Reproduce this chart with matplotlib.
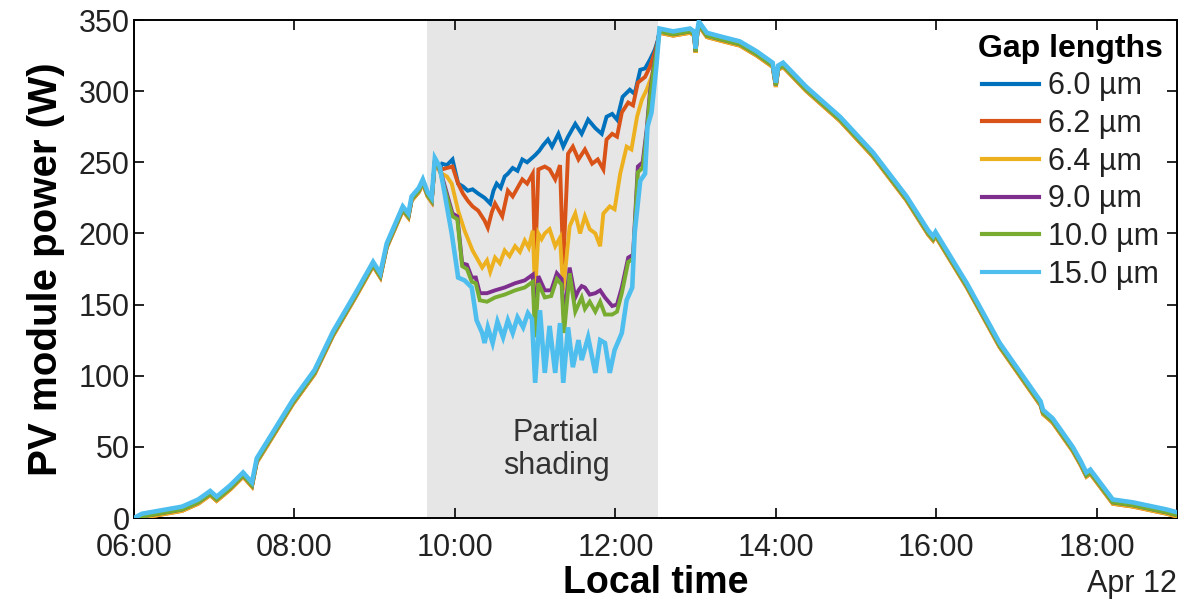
import matplotlib
matplotlib.use("Agg")
import matplotlib.pyplot as plt
import numpy as np

plt.rcParams['font.family'] = ['Liberation Sans', 'DejaVu Sans']

# ---------------- data (hours of day, W) ----------------
labels = ["6.0 µm", "6.2 µm", "6.4 µm", "9.0 µm", "10.0 µm", "15.0 µm"]
colors = ["#0072BD", "#D95319", "#EDB120", "#7E2F8E", "#77AC30", "#4DBEEE"]

# common curve before the shading (all gap lengths nearly identical)
morning_t = [6.00, 6.10, 6.30, 6.60, 6.80, 6.95, 7.03, 7.20, 7.36, 7.47, 7.53, 7.75,
             7.98, 8.25, 8.48, 8.75, 8.98, 9.07, 9.15, 9.35, 9.42, 9.46, 9.55, 9.60,
             9.66, 9.71, 9.75, 9.81]
morning_w = [0, 3, 5, 8, 13, 19, 15, 23, 32, 25, 42, 62,
             83, 104, 131, 157, 180, 172, 193, 219, 214, 226, 232, 238,
             229, 225, 253, 247]

# common curve after the shading
afternoon_t = [12.55, 12.72, 12.93, 12.98, 13.00, 13.02, 13.04, 13.14, 13.34, 13.55,
               13.76, 13.96, 14.00, 14.03, 14.09, 14.38, 14.80, 15.21, 15.63, 15.90,
               15.96, 15.99, 16.38, 16.79, 17.20, 17.30, 17.33, 17.45, 17.70, 17.80,
               17.87, 17.92, 18.04, 18.20, 18.45, 18.87, 19.00]
afternoon_w = [344, 342, 344, 342, 330, 342, 349, 341, 338, 335,
               328, 320, 306, 318, 320, 303, 282, 257, 226, 202,
               198, 201, 165, 123, 90, 82, 76, 70, 50, 40,
               32, 34, 25, 13, 11, 6, 4]

# small downward offset of each series outside the shading
outside_offset = [2, 3, 3, 2, 2, 0]

# values during partial shading, per gap length
shade_t_60 = [9.84, 9.90, 9.97, 10.04, 10.10, 10.16, 10.22, 10.29, 10.37, 10.44, 10.48,
              10.52, 10.57, 10.62, 10.66, 10.72, 10.78, 10.84, 10.90, 11.00, 11.05,
              11.10, 11.16, 11.21, 11.29, 11.35, 11.41, 11.50, 11.58, 11.66, 11.75,
              11.83, 11.89, 11.96, 12.02, 12.09, 12.18, 12.24, 12.31, 12.37, 12.43,
              12.49, 12.53]
shade_w_60 = [249, 248, 252, 235, 233, 230, 231, 228, 225, 221, 230,
              235, 232, 240, 242, 246, 244, 252, 250, 255, 258,
              262, 266, 261, 270, 261, 268, 277, 270, 280, 274,
              270, 282, 284, 280, 296, 301, 298, 315, 316, 322,
              329, 336]

shade_t_62 = [9.84, 9.90, 9.97, 10.04, 10.10, 10.16, 10.22, 10.29, 10.37, 10.41, 10.46,
              10.50, 10.55, 10.59, 10.66, 10.72, 10.78, 10.84, 10.90, 10.97, 11.00,
              11.04, 11.12, 11.18, 11.25, 11.31, 11.35, 11.41, 11.47, 11.54, 11.62,
              11.71, 11.78, 11.85, 11.89, 11.96, 12.02, 12.08, 12.16, 12.22, 12.28,
              12.37, 12.43, 12.49, 12.53]
shade_w_62 = [245, 246, 247, 235, 228, 223, 219, 216, 209, 204, 215,
              221, 216, 212, 230, 226, 232, 238, 235, 242, 178,
              245, 247, 245, 238, 248, 178, 256, 261, 252, 259,
              249, 252, 245, 266, 270, 268, 285, 292, 290, 306,
              310, 317, 327, 335]

shade_t_64 = [9.84, 9.90, 9.96, 10.04, 10.12, 10.22, 10.29, 10.34, 10.40, 10.44, 10.50,
              10.56, 10.62, 10.68, 10.75, 10.81, 10.87, 10.92, 10.97, 11.00, 11.04,
              11.08, 11.12, 11.18, 11.25, 11.31, 11.35, 11.43, 11.50, 11.56, 11.62,
              11.68, 11.75, 11.81, 11.85, 11.93, 11.99, 12.06, 12.14, 12.20, 12.27,
              12.33, 12.39, 12.45, 12.52]
shade_w_64 = [242, 240, 235, 216, 202, 188, 181, 176, 181, 173, 183,
              179, 188, 184, 191, 187, 195, 190, 202, 158, 200,
              196, 200, 203, 191, 197, 160, 205, 214, 200, 212,
              203, 200, 191, 214, 219, 217, 242, 261, 259, 282,
              294, 301, 310, 327]

shade_t_90 = [9.84, 9.90, 9.97, 10.03, 10.09, 10.15, 10.21, 10.26, 10.31, 10.40, 10.50,
              10.62, 10.75, 10.87, 10.97, 11.00, 11.04, 11.12, 11.20, 11.27, 11.33,
              11.36, 11.43, 11.50, 11.54, 11.58, 11.62, 11.68, 11.75, 11.81, 11.87,
              11.96, 12.02, 12.08, 12.16, 12.22, 12.28, 12.34, 12.39, 12.43, 12.49]
shade_w_90 = [240, 228, 214, 212, 179, 178, 169, 169, 158, 158, 160,
              162, 165, 167, 171, 140, 170, 160, 160, 172, 168,
              140, 176, 155, 160, 163, 162, 157, 158, 160, 155,
              149, 150, 162, 183, 185, 247, 250, 273, 299, 322]

shade_t_100 = shade_t_90
shade_w_100 = [238, 226, 212, 210, 177, 175, 166, 165, 153, 152, 155,
               157, 160, 162, 166, 127, 165, 155, 156, 168, 164,
               130, 172, 145, 150, 155, 147, 152, 145, 152, 143,
               143, 145, 158, 180, 182, 243, 246, 270, 296, 320]

shade_t_150 = [9.85, 9.90, 9.96, 10.02, 10.04, 10.12, 10.21, 10.27, 10.34, 10.37, 10.41,
               10.47, 10.53, 10.60, 10.66, 10.72, 10.78, 10.85, 10.91, 10.96, 11.00,
               11.06, 11.12, 11.18, 11.25, 11.31, 11.35, 11.41, 11.47, 11.54, 11.58,
               11.66, 11.75, 11.81, 11.87, 11.93, 11.99, 12.08, 12.14, 12.21, 12.24,
               12.31, 12.37, 12.40, 12.45, 12.51]
shade_w_150 = [235, 219, 200, 177, 169, 167, 162, 139, 130, 123, 134,
               123, 138, 127, 139, 130, 141, 134, 144, 140, 95,
               146, 102, 135, 102, 137, 95, 134, 106, 125, 111,
               127, 102, 125, 123, 102, 118, 130, 153, 162, 200,
               237, 242, 275, 285, 317]

shade_t = [shade_t_60, shade_t_62, shade_t_64, shade_t_90, shade_t_100, shade_t_150]
shade_w = [shade_w_60, shade_w_62, shade_w_64, shade_w_90, shade_w_100, shade_w_150]
linewidths = [2.8, 2.8, 2.8, 2.8, 2.8, 3.3]

shading_span = (9.65, 12.53)
xtick_hours = [6, 8, 10, 12, 14, 16, 18]
xtick_labels = ["06:00", "08:00", "10:00", "12:00", "14:00", "16:00", "18:00"]
yticks = [0, 50, 100, 150, 200, 250, 300, 350]

# ---------------- figure ----------------
fig = plt.figure(figsize=(11.9, 6.03), dpi=100)
ax = fig.add_axes([134 / 1190, 85 / 603, (1177 - 134) / 1190, (518 - 20) / 603])

ax.axvspan(shading_span[0], shading_span[1], color="#E6E6E6", lw=0, zorder=0)

for i in range(6):
    t = list(morning_t) + list(shade_t[i]) + list(afternoon_t)
    w = ([v - outside_offset[i] for v in morning_w] + list(shade_w[i]) +
         [v - outside_offset[i] for v in afternoon_w])
    w = [max(v, 0) for v in w]
    ax.plot(t, w, color=colors[i], lw=linewidths[i], label=labels[i],
            solid_joinstyle="miter", zorder=2 + i)

ax.set_xlim(6, 19)
ax.set_ylim(0, 350)
ax.set_xticks(xtick_hours)
ax.set_xticklabels(xtick_labels)
ax.set_yticks(yticks)
ax.tick_params(direction="in", length=7, width=1.2, labelsize=22, top=True, right=True,
               colors="black", labelcolor="#222222")
ax.tick_params(axis="x", pad=11)
ax.tick_params(axis="y", pad=3)
for s in ax.spines.values():
    s.set_linewidth(1.4)

ax.set_ylabel("PV module power (W)", fontsize=29, fontweight="bold", labelpad=10)
ax.set_xlabel("Local time", fontsize=27, fontweight="bold", labelpad=1)
ax.text(1.0, -0.132, "Apr 12", transform=ax.transAxes, ha="right", va="center",
        fontsize=22, color="#222222")
ax.text(11.26, 48, "Partial\nshading", ha="center", va="center",
        fontsize=22, color="#333333", linespacing=1.12)

leg = ax.legend(loc="upper right", bbox_to_anchor=(1.0, 1.0), frameon=False,
                fontsize=22, title="Gap lengths",
                title_fontproperties={"weight": "bold", "size": 23},
                handlelength=1.85, handletextpad=0.3, labelspacing=0.25,
                borderpad=0.2, borderaxespad=0.25)
for line in leg.get_lines():
    line.set_linewidth(3)
for txt in leg.get_texts():
    txt.set_color("#222222")

fig.savefig("out.png", dpi=100)
